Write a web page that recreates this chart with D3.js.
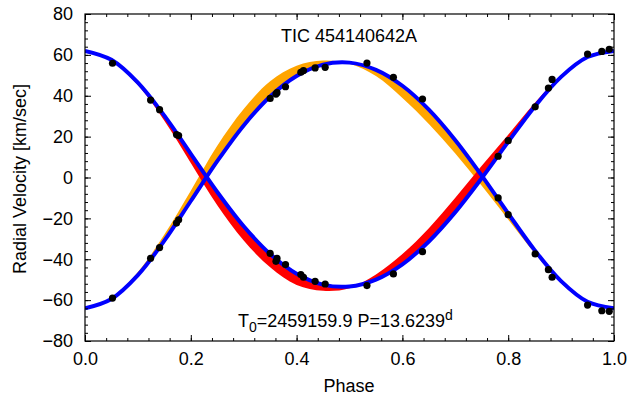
<!DOCTYPE html>
<html>
<head>
<meta charset="utf-8">
<script src="https://cdn.jsdelivr.net/npm/d3@7"></script>
<style>
  body { margin: 0; background: #fff; }
  text { font-family: "Liberation Sans", Arial, sans-serif; fill: #000; }
</style>
</head>
<body>
<div id="chart"></div>
<script>
// Model curve phases (orbital phase samples)
var phases = [0.00, 0.05, 0.10, 0.15, 0.20, 0.25, 0.30, 0.35, 0.40, 0.45, 0.50,
              0.55, 0.60, 0.65, 0.70, 0.75, 0.80, 0.85, 0.90, 0.95, 1.00];

// Primary (A) best model, km/sec
var primaryModel = [61.96, 57.58, 46.41, 30.25, 11.61, -7.07, -23.86, -37.45, -47.07, -52.40, -53.33,
                    -49.95, -42.48, -31.29, -16.95, -0.30, 17.46, 34.68, 49.24, 58.93, 61.96];
// Primary envelope edge (red band)
var primaryEdge = [61.96, 57.28, 45.21, 27.75, 7.11, -13.57, -30.86, -43.95, -52.57, -55.40, -54.13,
                   -47.45, -37.48, -24.79, -9.95, 5.70, 20.96, 36.48, 50.04, 59.23, 61.96];

// Secondary (B) best model
var secondaryModel = [-63.98, -59.41, -47.76, -30.92, -11.49, 7.99, 25.49, 39.65, 49.68, 55.23, 56.21,
                      52.69, 44.90, 33.23, 18.28, 0.93, -17.59, -35.54, -50.72, -60.82, -63.98];
// Secondary envelope edge (orange band)
var secondaryEdge = [-63.48, -58.81, -46.26, -27.92, -6.49, 15.49, 33.49, 47.15, 54.68, 57.23, 55.71,
                     49.69, 38.90, 26.23, 11.78, -4.07, -20.59, -37.04, -51.72, -61.12, -63.48];

// Observed radial velocities
var obsPhase = [0.052, 0.124, 0.141, 0.173, 0.177, 0.350, 0.361, 0.363, 0.379, 0.408, 0.413, 0.435,
                0.454, 0.533, 0.583, 0.638, 0.781, 0.800, 0.851, 0.876, 0.883, 0.950, 0.977, 0.991];
var obsPrimary = [55.9, 37.9, 33.2, 21.0, 20.5, -37.1, -41.0, -39.6, -42.6, -47.5, -48.8, -50.8,
                  -52.1, -52.9, -47.2, -36.3, 10.4, 18.0, 34.6, 43.8, 48.0, 60.4, 61.7, 62.7];
var obsSecondary = [-59.0, -39.5, -34.3, -22.3, -20.7, 38.7, 40.8, 41.5, 44.4, 51.5, 52.3, 53.6,
                    53.9, 56.0, 49.0, 38.4, -10.0, -18.2, -37.4, -45.1, -48.8, -62.4, -65.2, -65.5];

// Tick values
var xTicks = [0, 0.2, 0.4, 0.6, 0.8, 1.0];
var yTicks = [-80, -60, -40, -20, 0, 20, 40, 60, 80];

var width = 629;
var height = 399;

// Plot box
var plotLeft = 85, plotRight = 614, plotTop = 14, plotBottom = 341;

var svg = d3
  .select("#chart")
  .append("svg")
  .attr("width", width)
  .attr("height", height);

var xScale = d3.scaleLinear().domain([0, 1]).range([plotLeft, plotRight]);
var yScale = d3.scaleLinear().domain([-80, 80]).range([plotBottom, plotTop]);

// minor ticks every 0.04 in phase and 4 km/sec
var xMinor = d3.range(0, 26).map(function(i) { return i * 0.04; });
var yMinor = d3.range(-80, 81, 4);

svg.append("clipPath")
  .attr("id", "plotClip")
  .append("rect")
  .attr("x", plotLeft)
  .attr("y", plotTop)
  .attr("width", plotRight - plotLeft)
  .attr("height", plotBottom - plotTop);

var plot = svg.append("g").attr("clip-path", "url(#plotClip)");

var curve = d3.curveCatmullRom.alpha(0.5);

function band(model, edge) {
  return d3.area()
    .x(function(d, i) { return xScale(phases[i]); })
    .y0(function(d, i) { return yScale(model[i]); })
    .y1(function(d, i) { return yScale(edge[i]); })
    .curve(curve)(phases);
}

function line(model) {
  return d3.line()
    .x(function(d, i) { return xScale(phases[i]); })
    .y(function(d, i) { return yScale(model[i]); })
    .curve(curve)(phases);
}

// Envelopes
plot.append("path").attr("d", band(secondaryModel, secondaryEdge)).attr("fill", "#ffa500");
plot.append("path").attr("d", band(primaryModel, primaryEdge)).attr("fill", "#ff0000");

// Best fit curves
plot.append("path").attr("d", line(primaryModel))
  .attr("fill", "none").attr("stroke", "#0000ff").attr("stroke-width", 4);
plot.append("path").attr("d", line(secondaryModel))
  .attr("fill", "none").attr("stroke", "#0000ff").attr("stroke-width", 4);

// Observations
var pts = plot.append("g");
pts.selectAll("circle.p")
  .data(obsPhase)
  .enter()
  .append("circle")
  .attr("class", "p")
  .attr("cx", function(d) { return xScale(d); })
  .attr("cy", function(d, i) { return yScale(obsPrimary[i]); })
  .attr("r", 3.6)
  .attr("fill", "#000");
pts.selectAll("circle.s")
  .data(obsPhase)
  .enter()
  .append("circle")
  .attr("class", "s")
  .attr("cx", function(d) { return xScale(d); })
  .attr("cy", function(d, i) { return yScale(obsSecondary[i]); })
  .attr("r", 3.6)
  .attr("fill", "#000");

// Axes, ticks pointing inward on all four sides
function addAxis(axis, tx, ty) {
  var g = svg.append("g")
    .attr("transform", "translate(" + tx + "," + ty + ")")
    .call(axis);
  g.select(".domain").remove();
  g.selectAll("line").attr("stroke", "#000");
  g.selectAll("text").style("font-size", "18px");
  return g;
}

addAxis(d3.axisBottom(xScale).tickValues(xMinor).tickSize(-3).tickFormat(""), 0, plotBottom);
addAxis(d3.axisTop(xScale).tickValues(xMinor).tickSize(-3).tickFormat(""), 0, plotTop);
addAxis(d3.axisLeft(yScale).tickValues(yMinor).tickSize(-3).tickFormat(""), plotLeft, 0);
addAxis(d3.axisRight(yScale).tickValues(yMinor).tickSize(-3).tickFormat(""), plotRight, 0);

addAxis(d3.axisBottom(xScale).tickValues(xTicks).tickSize(-6).tickPadding(11)
  .tickFormat(d3.format(".1f")), 0, plotBottom);
addAxis(d3.axisTop(xScale).tickValues(xTicks).tickSize(-6).tickFormat(""), 0, plotTop);
addAxis(d3.axisLeft(yScale).tickValues(yTicks).tickSize(-6).tickPadding(12)
  .tickFormat(d3.format("d")), plotLeft, 0);
addAxis(d3.axisRight(yScale).tickValues(yTicks).tickSize(-6).tickFormat(""), plotRight, 0);

// Frame
svg.append("rect")
  .attr("x", plotLeft)
  .attr("y", plotTop)
  .attr("width", plotRight - plotLeft)
  .attr("height", plotBottom - plotTop)
  .attr("fill", "none")
  .attr("stroke", "#000")
  .attr("stroke-width", 1.2);

// Title inside plot
svg.append("text")
  .attr("x", 349)
  .attr("y", 42)
  .attr("text-anchor", "middle")
  .style("font-size", "18px")
  .text("TIC 454140642A");

// Epoch and period label
var ann = svg.append("text")
  .attr("x", 238)
  .attr("y", 327)
  .style("font-size", "18px");
ann.append("tspan").text("T");
ann.append("tspan").attr("dy", 5).style("font-size", "14px").text("0");
ann.append("tspan").attr("dy", -5).text("=2459159.9 P=13.6239");
ann.append("tspan").attr("dy", -7).style("font-size", "14px").text("d");

// Axis titles
svg.append("text")
  .attr("x", 349)
  .attr("y", 392)
  .attr("text-anchor", "middle")
  .style("font-size", "18px")
  .text("Phase");

svg.append("text")
  .attr("transform", "translate(26,179)rotate(-90)")
  .attr("text-anchor", "middle")
  .style("font-size", "18px")
  .text("Radial Velocity [km/sec]");
</script>
</body>
</html>
